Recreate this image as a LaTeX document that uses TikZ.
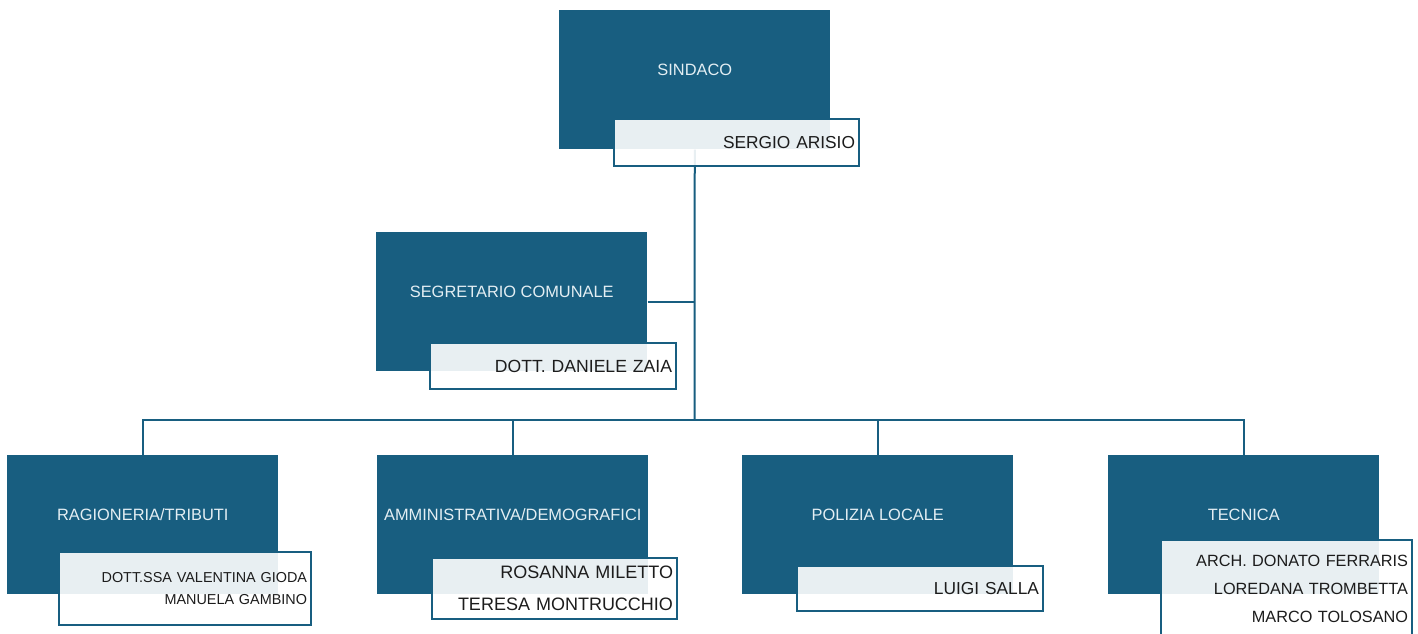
\documentclass[tikz,border=0pt]{standalone}
\usepackage{fontspec}
\setmainfont{Liberation Sans}
\definecolor{orgblue}{HTML}{185E80}
\definecolor{titletext}{HTML}{E3EEF3}
\definecolor{nametext}{HTML}{1C1C1C}

\begin{document}
\begin{tikzpicture}[x=0.75pt, y=-0.75pt,
    unitbox/.style={fill=orgblue, inner sep=0pt, anchor=north west,
        minimum width=203.25pt, minimum height=104.25pt, text=titletext,
        font=\fontsize{12.3}{15}\selectfont, text depth=15pt},
    namebox/.style={draw=orgblue, line width=1.5pt, fill=white, fill opacity=0.9,
        text opacity=1, anchor=north west, inner xsep=3pt, inner ysep=0pt,
        align=right, text=nametext, text width=#1},
    link/.style={draw=orgblue, line width=1.5pt}]
    \useasboundingbox (0,0) rectangle (1418,634);

    % Units
    \node[unitbox] (sindaco) at (559,10) {SINDACO};
    \node[unitbox] (segretario) at (376,232) {SEGRETARIO COMUNALE};
    \node[unitbox] (ragioneria) at (7,455) {RAGIONERIA/TRIBUTI};
    \node[unitbox] (amministrativa) at (377,455) {AMMINISTRATIVA/DEMOGRAFICI};
    \node[unitbox] (polizia) at (742,455) {POLIZIA LOCALE};
    \node[unitbox] (tecnica) at (1108,455) {TECNICA};

    % Connectors
    \coordinate (bus) at (694.5,420);
    \draw[link] (sindaco.south) -- (bus);
    \draw[link] (segretario.east) -- (segretario.east -| bus);
    \draw[link] (ragioneria.north) |- (tecnica.north |- bus) -- (tecnica.north);
    \draw[link] (amministrativa.north) -- (amministrativa.north |- bus);
    \draw[link] (polizia.north) -- (polizia.north |- bus);

    % Names
    \node[namebox=177.75pt, minimum height=35.25pt, font=\fontsize{13}{16}\selectfont]
        (sindaco-name) at (613,118) {SERGIO ARISIO};
    \node[namebox=178.5pt, minimum height=34.5pt, font=\fontsize{13.2}{16}\selectfont]
        (segretario-name) at (429,342) {DOTT. DANIELE ZAIA};
    \node[namebox=183pt, minimum height=54.75pt, font=\fontsize{10.8}{17}\selectfont]
        (ragioneria-name) at (58,551) {DOTT.SSA VALENTINA GIODA\\MANUELA GAMBINO};
    \node[namebox=177.75pt, minimum height=45.75pt, font=\fontsize{13.5}{24}\selectfont]
        (amministrativa-name) at (431,557) {ROSANNA MILETTO\\TERESA MONTRUCCHIO};
    \node[namebox=178.5pt, minimum height=33.75pt, font=\fontsize{13}{16}\selectfont]
        (polizia-name) at (796,565) {LUIGI SALLA};
    \node[namebox=182.25pt, minimum height=73.5pt, font=\fontsize{12.2}{21}\selectfont]
        (tecnica-name) at (1160,539) {ARCH. DONATO FERRARIS\\LOREDANA TROMBETTA\\MARCO TOLOSANO};
\end{tikzpicture}
\end{document}
